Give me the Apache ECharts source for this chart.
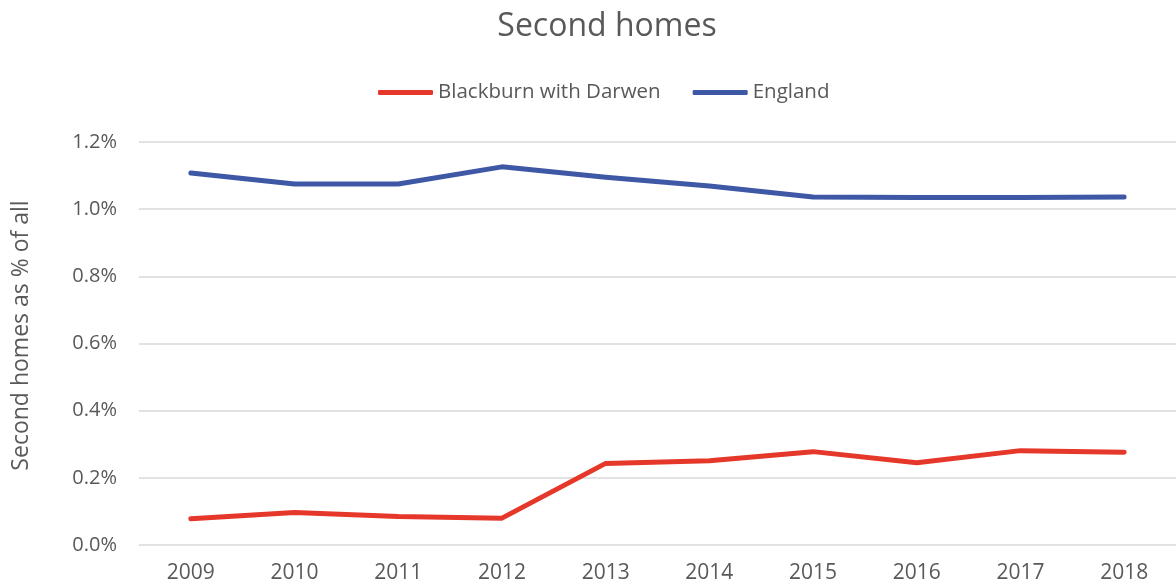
<!DOCTYPE html>
<html lang="en">
<head>
    <meta charset="UTF-8">
    <title>Second homes</title>
    <script src="https://cdn.jsdelivr.net/npm/echarts@6/dist/echarts.min.js"></script>
    <style>
        html, body { margin: 0; padding: 0; background: #fff; }
        #chart { width: 1176px; height: 588px; }
    </style>
</head>
<body>
    <div id="chart"></div>
    <script>
        // values, in percent
        const years = ['2009', '2010', '2011', '2012', '2013', '2014', '2015', '2016', '2017', '2018'];
        const blackburn = [0.078, 0.097, 0.085, 0.080, 0.243, 0.251, 0.278, 0.245, 0.281, 0.276];
        const england = [1.108, 1.075, 1.075, 1.126, 1.095, 1.069, 1.036, 1.035, 1.035, 1.036];

        const font = 'Open Sans, Noto Sans, sans-serif';
        const grey = '#595959';

        var myChart = echarts.init(document.getElementById('chart'));

        var option = {
            backgroundColor: '#fff',
            textStyle: { fontFamily: font, color: grey },
            title: {
                text: 'Second homes',
                left: 602,
                textAlign: 'center',
                top: 6,
                textStyle: { fontFamily: font, color: grey, fontSize: 32, fontWeight: 'normal' }
            },
            legend: {
                top: 77,
                left: 373,
                icon: 'roundRect',
                itemWidth: 55,
                itemHeight: 5,
                itemGap: 32,
                textStyle: { fontFamily: font, color: grey, fontSize: 20.5 },
                data: ['Blackburn with Darwen', 'England']
            },
            grid: { left: 139, right: -5, top: 142, bottom: 43 },
            xAxis: {
                type: 'category',
                data: years,
                boundaryGap: true,
                axisLine: { show: false },
                axisTick: { show: false },
                axisLabel: { color: grey, fontSize: 21, fontFamily: font, margin: 18 }
            },
            yAxis: {
                type: 'value',
                min: 0,
                max: 1.2,
                interval: 0.2,
                name: 'Second homes as % of all',
                nameLocation: 'middle',
                nameGap: 106,
                nameTextStyle: { color: grey, fontSize: 23, fontFamily: font, padding: [0, 0, 0, 16] },
                axisLine: { show: false },
                axisTick: { show: false },
                axisLabel: {
                    color: grey, fontSize: 20, fontFamily: font, margin: 22,
                    formatter: v => v.toFixed(1) + '%'
                },
                splitLine: { lineStyle: { color: '#d9d9d9', width: 1.5 } }
            },
            series: [
                {
                    name: 'Blackburn with Darwen',
                    type: 'line',
                    data: blackburn,
                    symbol: 'none',
                    color: '#e5382a',
                    lineStyle: { width: 5, cap: 'round', join: 'round' }
                },
                {
                    name: 'England',
                    type: 'line',
                    data: england,
                    symbol: 'none',
                    color: '#3f58a6',
                    lineStyle: { width: 5, cap: 'round', join: 'round' }
                }
            ]
        };

        option && myChart.setOption(option);
    </script>
</body>
</html>
